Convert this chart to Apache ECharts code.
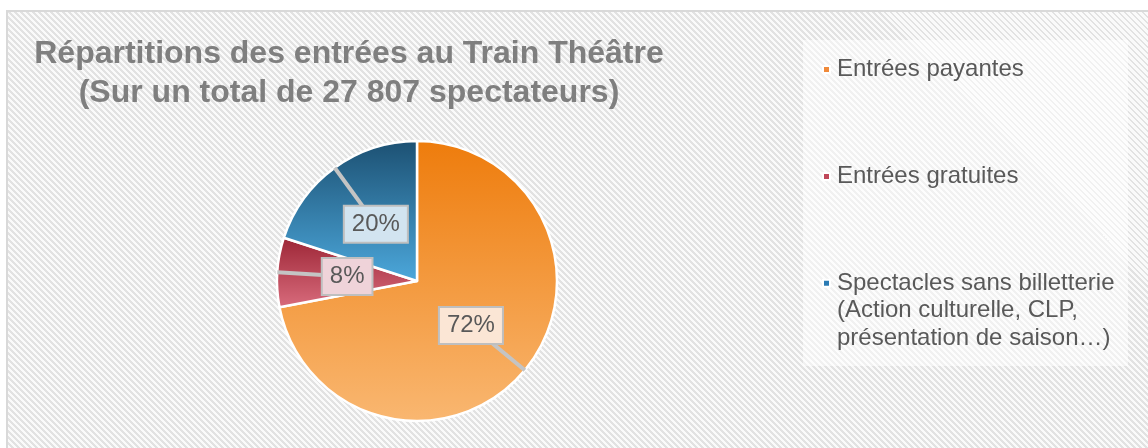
<!DOCTYPE html>
<html>
<head>
<meta charset="utf-8">
<script src="https://cdn.jsdelivr.net/npm/echarts@6/dist/echarts.min.js"></script>
<style>
  html, body { margin: 0; padding: 0; background: #fff; }
  .wrap { position: relative; width: 1148px; height: 448px; overflow: hidden; }
  /* fond hachuré du graphique */
  .bg {
    position: absolute; left: 6px; top: 10px; width: 1150px; height: 450px;
    border-left: 2px solid #d9d9d9; border-top: 2px solid #d9d9d9;
    background: repeating-linear-gradient(45deg, #e2e2e2 0px, #e2e2e2 2px, #fafafa 2px, #fafafa 4.24px);
  }
  /* zone de légende plus claire */
  .legend-box {
    position: absolute; left: 803px; top: 40px; width: 325px; height: 326px;
    background: rgba(255, 255, 255, 0.5);
  }
  #chart { position: absolute; left: 0; top: 0; width: 1148px; height: 448px; }
</style>
</head>
<body>
<div class="wrap">
  <div class="bg"></div>
  <div class="legend-box"></div>
  <div id="chart"></div>
</div>
<script>
// données
const categories = [
  'Entrées payantes',
  'Entrées gratuites',
  'Spectacles sans billetterie\n(Action culturelle, CLP,\nprésentation de saison…)'
]
const percents = [72, 8, 20]
const titleLines = ['Répartitions des entrées au Train Théâtre', '(Sur un total de 27 807 spectateurs)']

// couleurs (dégradé haut -> bas, légende, fond des étiquettes)
const topColors = ['#ee7c0c', '#9c2535', '#1c5072']
const bottomColors = ['#f9b771', '#d96c7d', '#4ca8dc']
const legendColors = ['#f08a3a', '#c0485a', '#2b7bb4']
const labelFills = ['#fbe6d5', '#efd3d9', '#d2e4f0']

const FONT = '"Liberation Sans", Arial, sans-serif'
const center = [417, 281]
const radius = 140

const chart = echarts.init(document.getElementById('chart'), null, { renderer: 'canvas' })

const gradient = (i) => new echarts.graphic.LinearGradient(0, 0, 0, 1, [
  { offset: 0, color: topColors[i] },
  { offset: 1, color: bottomColors[i] }
])

// base commune des deux séries (même géométrie)
const basePie = {
  type: 'pie',
  center: center,
  radius: radius,
  startAngle: 90,
  clockwise: true,
  silent: true,
  animation: false,
  avoidLabelOverlap: false,
  emphasis: { disabled: true }
}

const option = {
  backgroundColor: 'transparent',
  animation: false,
  title: {
    text: titleLines.join('\n'),
    left: 349,
    top: 35,
    padding: 0,
    textAlign: 'center',
    textStyle: {
      fontFamily: FONT,
      fontSize: 32,
      fontWeight: 'bold',
      color: '#7f7f7f',
      lineHeight: 38.5
    }
  },
  // une légende par entrée pour placer chaque ligne comme dans l'original
  legend: categories.map((name, i) => ({
    orient: 'vertical',
    left: 822,
    top: [55.5, 162.5, 214.5][i],
    padding: 0,
    icon: 'rect',
    itemWidth: 7,
    itemHeight: 7,
    selectedMode: false,
    formatter: i === 2 ? (n) => '\n\n' + n : '{name}',
    textStyle: {
      fontFamily: FONT,
      fontSize: 24,
      color: '#595959',
      lineHeight: i === 2 ? 27.5 : 28,
      padding: [0, 0, 0, 2]
    },
    data: [{ name: name, itemStyle: { color: legendColors[i] } }]
  })),
  series: [
    // secteurs visibles
    Object.assign({}, basePie, {
      z: 1,
      itemStyle: { borderColor: '#ffffff', borderWidth: 2.5 },
      label: { show: false },
      labelLine: { show: false },
      data: categories.map((name, i) => ({
        name: name,
        value: percents[i],
        itemStyle: { color: gradient(i) }
      }))
    }),
    // bulles : trait du bord vers le centre de l'étiquette encadrée
    Object.assign({}, basePie, {
      z: 2,
      itemStyle: { color: 'transparent', borderWidth: 0 },
      label: {
        show: true,
        position: 'outside',
        distanceToLabelLine: 0,
        formatter: '{c}%',
        fontFamily: FONT,
        fontSize: 24,
        color: '#595959',
        borderColor: '#bfbfbf',
        borderWidth: 2,
        padding: [6, 7, 5, 7]
      },
      labelLine: {
        show: true,
        length: -radius / 2,
        length2: 0,
        minTurnAngle: 0,
        maxSurfaceAngle: 180,
        lineStyle: { color: '#c4c4c4', width: 4 }
      },
      labelLayout: { align: 'center', verticalAlign: 'middle' },
      data: categories.map((name, i) => ({
        name: name,
        value: percents[i],
        label: { backgroundColor: labelFills[i] }
      }))
    })
  ]
}

chart.setOption(option)

window.addEventListener('resize', () => {
  chart.resize()
})
</script>
</body>
</html>
